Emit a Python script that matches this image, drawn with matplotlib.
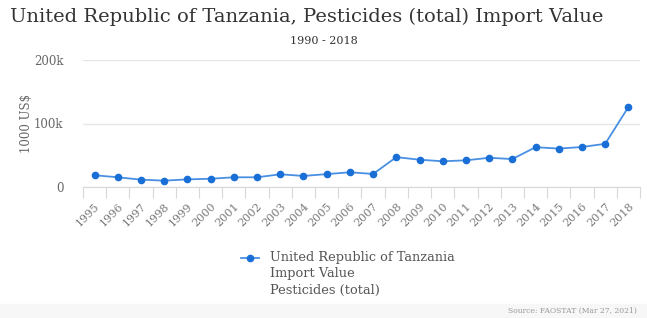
import matplotlib
matplotlib.use("Agg")
import matplotlib.pyplot as plt
from matplotlib.lines import Line2D
from matplotlib.patches import Rectangle

years = [str(y) for y in range(1995, 2019)]
values = [18.5, 15.3, 11.6, 10.0, 12.0, 13.0, 15.3, 15.3, 20.0, 17.4, 20.3, 23.2,
          20.5, 47.0, 43.0, 40.5, 42.0, 46.0, 44.0, 62.7, 60.5, 63.0, 68.0, 126.0]
values = [v * 1000 for v in values]
yticks = [0, 100000, 200000]
ytick_labels = ["0", "100k", "200k"]

plt.rcParams['font.family'] = ['DejaVu Serif']
fig = plt.figure(figsize=(6.47, 3.18), dpi=100)
W, H = 647, 318
ax = fig.add_axes([83 / W, 1 - 187 / H, (640 - 83) / W, (187 - 60) / H])

x = list(range(len(years)))
ax.plot(x, values, color="#4a90e2", lw=1.3, marker="o", ms=4.5,
        markerfacecolor="#1a6fd6", markeredgecolor="#1a6fd6", zorder=3)
ax.set_xlim(-0.5, len(years) - 0.5)
ax.set_ylim(0, 200000)
ax.set_yticks(yticks)
ax.set_yticklabels(ytick_labels, color="#666666", fontsize=8.5)
ax.tick_params(axis="y", length=0, pad=14)
ax.grid(axis="y", color="#e6e6e6", lw=1)
ax.set_axisbelow(True)
for s in ["top", "right", "left"]:
    ax.spines[s].set_visible(False)
ax.spines["bottom"].set_color("#d8d8d8")

ax.set_xticks([i - 0.5 for i in range(len(years) + 1)], minor=False)
ax.set_xticklabels([""] * (len(years) + 1))
ax.tick_params(axis="x", length=8, color="#d8d8d8")
ax.set_xticks(x, minor=True)
ax.set_xticklabels(years, minor=True, rotation=45, ha="right", rotation_mode="anchor",
                   color="#777777", fontsize=8)
ax.tick_params(axis="x", which="minor", length=0, pad=10)

ax.set_ylabel("1000 US$", color="#666666", fontsize=8.5, labelpad=2)
ax.yaxis.set_label_coords(-50 / (640 - 83), 0.5)

fig.text(10 / W, 1 - 17 / H, "United Republic of Tanzania, Pesticides (total) Import Value",
         fontsize=14, color="#333333", va="center", ha="left")
fig.text(0.5, 1 - 41 / H, "1990 - 2018", fontsize=8, color="#333333", va="center", ha="center")

fig.add_artist(Line2D([241 / W, 259 / W], [1 - 258 / H, 1 - 258 / H], color="#4a90e2", lw=1.3))
fig.add_artist(Line2D([250 / W], [1 - 258 / H], color="#1a6fd6", marker="o", ms=4.5, lw=0))
fig.text(270 / W, 1 - 258 / H, "United Republic of Tanzania", fontsize=9.3, color="#555555",
         va="center", ha="left")
fig.text(270 / W, 1 - 274 / H, "Import Value", fontsize=9.3, color="#555555", va="center", ha="left")
fig.text(270 / W, 1 - 290 / H, "Pesticides (total)", fontsize=9.3, color="#555555", va="center", ha="left")
fig.text(637 / W, 1 - 311 / H, "Source: FAOSTAT (Mar 27, 2021)", fontsize=5.5, color="#999999",
         va="center", ha="right")
fig.add_artist(Rectangle((0, 0), 1, 14 / H, transform=fig.transFigure, color="#f7f7f7", zorder=-1))

fig.savefig("out.png", dpi=100)
